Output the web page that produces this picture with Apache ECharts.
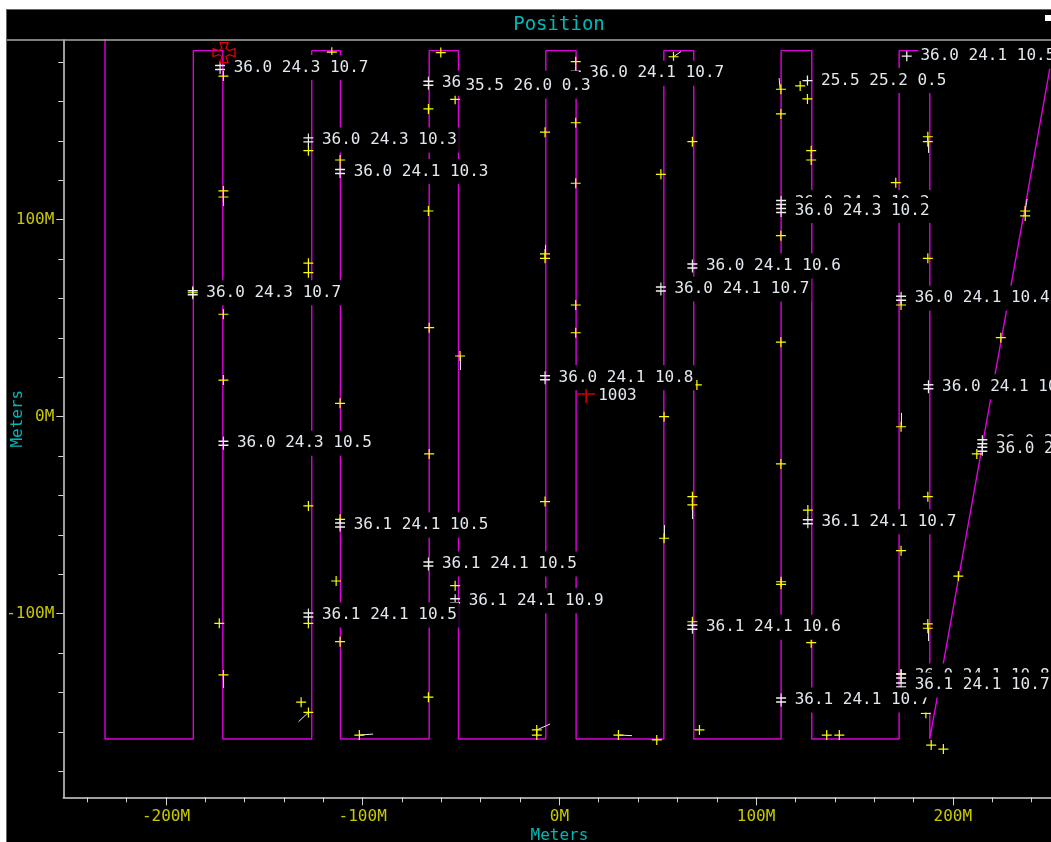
<!DOCTYPE html>
<html><head><meta charset="utf-8">
<script src="https://cdn.jsdelivr.net/npm/echarts@6/dist/echarts.min.js"></script>
<style>
html,body{margin:0;padding:0;background:#fff;overflow:hidden;width:1051px;height:842px;}
#frame{position:absolute;left:6px;top:9px;width:1200px;height:900px;background:#000;border-left:1px solid #666;border-top:1px solid #666;}
#chart{position:absolute;left:0;top:0;width:1120px;height:842px;}
</style></head>
<body><div id="frame"></div><div id="chart"></div>
<script>
// ---- data (meters) ----
const pathX = [-231.0,-231.0,-186.1,-186.1,-171.1,-171.1,-125.9,-125.9,-111.3,-111.3,-66.2,-66.2,-51.3,-51.3,-6.9,-6.9,8.5,8.5,53.1,53.1,68.3,68.3,112.7,112.7,128.3,128.3,172.7,172.7,188.3,188.3,253.5];
const pathY = [200,-163.6,-163.6,185.8,185.8,-163.6,-163.6,185.8,185.8,-163.6,-163.6,185.8,185.8,-163.6,-163.6,185.8,185.8,-163.6,-163.6,185.8,185.8,-163.6,-163.6,185.8,185.8,-163.6,-163.6,185.8,185.8,-163.6,200];

const fixX = [-115.7,-170.8,-127.6,-111.5,-170.8,-170.8,-60.3,-53.0,-66.6,-66.6,-7.3,8.3,8.3,8.3,58.0,67.6,51.6,112.6,122.4,126.1,112.6,128.0,128.0,112.6,187.3,187.3,171.0,236.8,236.8,-127.6,-127.6,-186.4,-170.8,-170.8,-111.5,-127.6,-111.5,-7.3,-7.3,8.3,8.3,-66.2,-50.5,69.9,53.2,-66.2,-7.3,112.6,112.6,67.6,67.6,53.2,187.3,173.7,224.4,173.7,212.2,187.3,126.3,173.7,-113.5,-172.9,-127.6,-111.5,-170.8,-131.3,-127.6,-101.7,-53.0,-66.6,-11.5,-11.5,30.0,49.5,71.2,67.6,112.7,112.7,202.8,187.3,187.3,128.0,173.7,186.3,135.9,142.3,189.0,195.2];
const fixY = [185.0,172.9,135.0,130.3,114.6,111.5,184.8,161.1,156.2,104.4,144.4,180.2,149.2,118.5,182.7,139.6,123.0,166.2,167.9,161.3,153.7,135.0,130.3,91.9,142.1,139.6,118.8,104.4,101.9,77.9,73.1,62.9,52.0,18.6,6.8,-45.3,-52.1,82.6,80.4,56.7,42.6,45.2,30.8,16.1,0.0,-18.9,-43.1,37.8,-24.0,-40.6,-44.8,-61.7,80.4,56.7,40.1,-5.1,-18.9,-40.6,-47.4,-68.0,-83.4,-104.9,-104.9,-114.2,-131.1,-144.9,-150.1,-161.6,-85.8,-142.4,-159.0,-161.6,-161.6,-164.1,-159.0,-104.1,-83.8,-85.1,-80.9,-105.2,-107.4,-114.7,-130.6,-150.6,-161.6,-161.6,-166.7,-168.7];

const tagX = [-66.6,-172.5,-127.6,-111.5,8.3,112.7,112.7,-186.4,-170.8,-7.3,67.6,51.6,173.7,187.6,215.0,215.0,-111.5,-66.6,-53.0,-127.6,67.6,126.3,112.7,173.7,173.7];
const tagY = [169.2,177.2,140.5,124.4,174.3,108.7,104.6,62.9,-13.5,19.8,76.5,64.8,60.1,15.2,-12.7,-16.5,-55.0,-74.8,-93.4,-100.7,-106.9,-53.3,-143.8,-131.6,-136.2];
const tagText = ["36.0 24.1 10.3","36.0 24.3 10.7","36.0 24.3 10.3","36.0 24.1 10.3","36.0 24.1 10.7","36.0 24.3 10.2","36.0 24.3 10.2","36.0 24.3 10.7","36.0 24.3 10.5","36.0 24.1 10.8","36.0 24.1 10.6","36.0 24.1 10.7","36.0 24.1 10.4","36.0 24.1 10.6","36.0 24.1 10.6","36.0 24.1 10.6","36.1 24.1 10.5","36.1 24.1 10.5","36.1 24.1 10.9","36.1 24.1 10.5","36.1 24.1 10.6","36.1 24.1 10.7","36.1 24.1 10.7","36.0 24.1 10.8","36.1 24.1 10.7"];

const ptX = [-54.7,126.1,176.6];
const ptY = [167.9,170.6,183.0];
const ptText = ["35.5 26.0 0.3","25.5 25.2 0.5","36.0 24.1 10.5"];

const headX1 = [-170.8,58.0,112.2,187.3,236.8,-50.5,67.6,53.2,187.3,-170.8,-127.6,-101.7,-11.5,30.0,173.7,-7.3];
const headY1 = [111.5,182.7,166.3,139.6,104.4,30.8,-44.8,-61.7,-107.4,-131.1,-150.1,-161.6,-159.0,-161.6,-5.1,82.6];
const headX2 = [-170.8,61.9,111.7,187.3,237.8,-50.5,67.6,53.2,187.3,-170.8,-132.6,-94.7,-4.7,36.9,173.7,-7.3];
const headY2 = [107.0,185.4,171.9,133.9,110.5,23.7,-52.0,-55.0,-113.9,-137.7,-154.8,-161.1,-156.0,-161.9,1.9,87.2];

const homeX = [-170.5], homeY = [184.8];
const wpX = [13.4], wpY = [10.5], wpText = ["1003"];

const xMajor = [-200,-100,0,100,200];
const xMinor = [-240,-220,-200,-180,-160,-140,-120,-100,-80,-60,-40,-20,0,20,40,60,80,100,120,140,160,180,200,220,240];
const yMajor = [-100,0,100];
const yMinor = [-180,-160,-140,-120,-100,-80,-60,-40,-20,0,20,40,60,80,100,120,140,160,180];

// ---- chart ----
const MONO = 'DejaVu Sans Mono';
const zip = (a,b) => a.map((v,i)=>[v,b[i]]);
const chart = echarts.init(document.getElementById('chart'), null, {renderer:'canvas'});
const axCol = '#d4d4d4', tickLab = '#c8c800', cyan = '#00b8b8';
const X0=-252.2, X1=252.2, Y0=-193.2, Y1=191.2;

const labelStyle = {
  show:true, position:'right', distance:6, color:'#e2e8ee', fontFamily:MONO, fontSize:16,
  backgroundColor:'#000', padding:[6,2,3,2], formatter: p => p.name
};

chart.setOption({
  backgroundColor:'transparent',
  animation:false,
  grid:{left:63.3, top:40, width:992.2, height:757.3, containLabel:false, outerBoundsMode:'none'},
  graphic:[
    {type:'line', shape:{x1:7,y1:40,x2:1120,y2:40}, style:{stroke:'#a8a8a8', lineWidth:1.5}, z:10},
    {type:'text', x:559, y:25, style:{text:'Position', fill:cyan, font:'19px "DejaVu Sans Mono"', textAlign:'center', textVerticalAlign:'middle'}},
    {type:'rect', shape:{x:1045,y:15,width:8,height:6}, style:{fill:'#fff'}}
  ],
  xAxis:[
    {type:'value', min:X0, max:X1, position:'bottom',
     axisLine:{show:true, onZero:false, lineStyle:{color:axCol, width:1.5}},
     axisTick:{show:true, customValues:xMajor, length:8, lineStyle:{color:axCol}},
     axisLabel:{show:true, customValues:xMajor, formatter:v=>v+'M', color:tickLab, fontFamily:MONO, fontSize:16, margin:12},
     splitLine:{show:false},
     name:'Meters', nameLocation:'middle', nameGap:31, nameMoveOverlap:false, nameTextStyle:{color:cyan, fontFamily:MONO, fontSize:16}},
    {type:'value', min:X0, max:X1, position:'bottom',
     axisLine:{show:false, onZero:false},
     axisTick:{show:true, customValues:xMinor, length:5, lineStyle:{color:axCol}},
     axisLabel:{show:false}, splitLine:{show:false}}
  ],
  yAxis:[
    {type:'value', min:Y0, max:Y1, position:'left',
     axisLine:{show:true, onZero:false, lineStyle:{color:axCol, width:1.5}},
     axisTick:{show:true, customValues:yMajor, length:7, lineStyle:{color:axCol}},
     axisLabel:{show:true, customValues:yMajor, formatter:v=>v+'M', color:tickLab, fontFamily:MONO, fontSize:16, margin:9},
     splitLine:{show:false},
     name:'Meters', nameLocation:'middle', nameGap:37, nameRotate:90, nameMoveOverlap:false, nameTextStyle:{color:cyan, fontFamily:MONO, fontSize:16}},
    {type:'value', min:Y0, max:Y1, position:'left',
     axisLine:{show:false, onZero:false},
     axisTick:{show:true, customValues:yMinor, length:5, lineStyle:{color:axCol}},
     axisLabel:{show:false}, splitLine:{show:false}}
  ],
  series:[
    {type:'line', data:zip(pathX,pathY), symbol:'none', clip:true, z:1,
     lineStyle:{color:'#e000e0', width:1.4}},
    {type:'lines', coordinateSystem:'cartesian2d', z:2,
     data:headX1.map((v,i)=>({coords:[[v,headY1[i]],[headX2[i],headY2[i]]]})),
     lineStyle:{color:'#e8e8e8', width:1, opacity:1}},
    {type:'scatter', data:zip(fixX,fixY), z:3,
     symbol:'path://M5,0L5,10M0,5L10,5', symbolSize:10,
     itemStyle:{color:'rgba(0,0,0,0)', borderColor:'#ffff00', borderWidth:1.2, opacity:1}},
    {type:'scatter', z:4,
     data:tagX.map((v,i)=>({name:tagText[i], value:[v,tagY[i]]})),
     symbol:'path://M5,0L5,13M0,4.5L10,4.5M0,8.5L10,8.5', symbolSize:[10,13],
     itemStyle:{color:'rgba(0,0,0,0)', borderColor:'#f0f0f0', borderWidth:1.3, opacity:1},
     label:labelStyle},
    {type:'scatter', z:4,
     data:ptX.map((v,i)=>({name:ptText[i], value:[v,ptY[i]]})),
     symbol:'path://M5,0L5,10M0,5L10,5', symbolSize:10,
     itemStyle:{color:'rgba(0,0,0,0)', borderColor:'#f0f0f0', borderWidth:1.3, opacity:1},
     label:labelStyle},
    {type:'scatter', z:5,
     data:wpX.map((v,i)=>({name:wpText[i], value:[v,wpY[i]]})),
     symbol:'path://M0,5L19,5M10,0L10,14', symbolSize:[19,14],
     itemStyle:{color:'rgba(0,0,0,0)', borderColor:'#c80000', borderWidth:1.5, opacity:1},
     label:Object.assign({}, labelStyle, {distance:1, padding:[2,1,1,1], backgroundColor:'transparent'})},
    {type:'scatter', z:5, data:zip(homeX,homeY),
     symbol:'path://M7,0L15,0L13,6L16,8L22,6L22,14L16,12L13,14L15,20L7,20L9,14L6,12L0,14L0,6L6,8L9,6Z', symbolSize:[22,20],
     itemStyle:{color:'rgba(0,0,0,0)', borderColor:'#e00000', borderWidth:1.3, opacity:1}}
  ]
});
</script>
</body></html>
